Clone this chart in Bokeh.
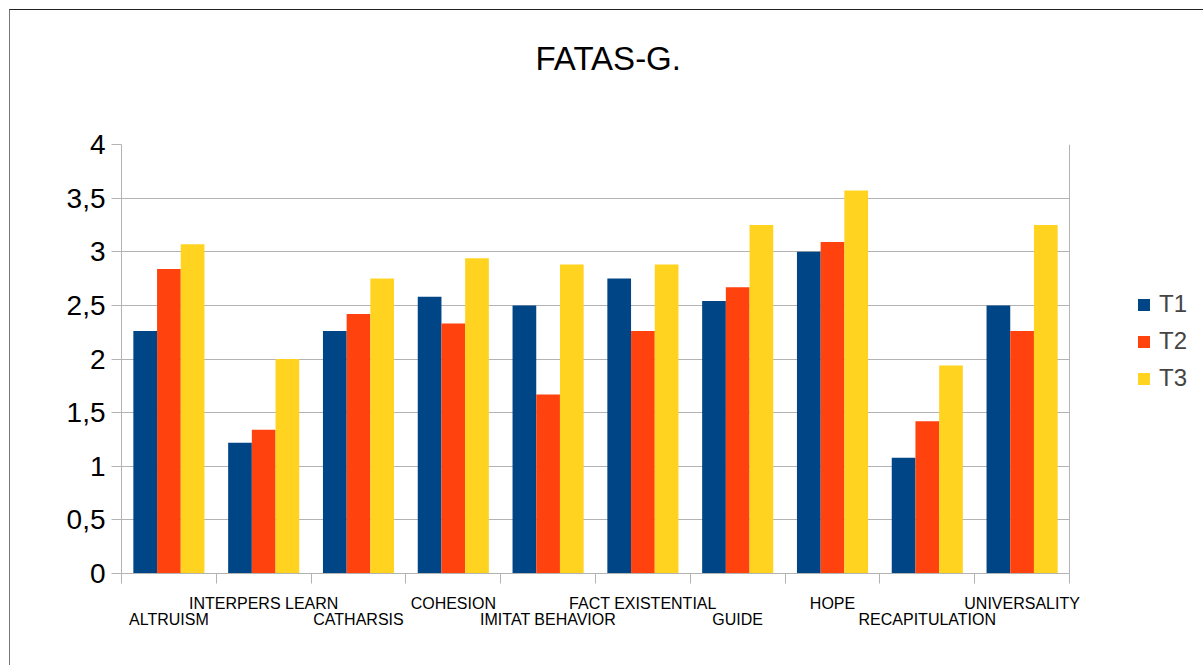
from bokeh.plotting import figure
from bokeh.models import (ColumnDataSource, Range1d, FixedTicker, LinearAxis,
                          Legend, LegendItem, Title)
from bokeh.transform import dodge
from bokeh.embed import file_html
from bokeh.resources import INLINE

# ---- data ----
categories = ["ALTRUISM", "INTERPERS LEARN", "CATHARSIS", "COHESION", "IMITAT BEHAVIOR",
              "FACT EXISTENTIAL", "GUIDE", "HOPE", "RECAPITULATION", "UNIVERSALITY"]
t1 = [2.26, 1.22, 2.26, 2.58, 2.50, 2.75, 2.54, 3.00, 1.08, 2.50]
t2 = [2.84, 1.34, 2.42, 2.33, 1.67, 2.26, 2.67, 3.09, 1.42, 2.26]
t3 = [3.07, 2.00, 2.75, 2.94, 2.88, 2.88, 3.25, 3.57, 1.94, 3.25]
series_names = ["T1", "T2", "T3"]
colors = ["#004586", "#ff420e", "#ffd320"]
y_ticks = [0, 0.5, 1, 1.5, 2, 2.5, 3, 3.5, 4]
y_tick_labels = ["0", "0,5", "1", "1,5", "2", "2,5", "3", "3,5", "4"]
title_text = "FATAS-G."

FONT = "Liberation Sans"
GRID = "#b3b3b3"
OFF = 10  # page offset of the chart box (margin + border)

n = len(categories)
centers = [i + 0.5 for i in range(n)]
boundaries = list(range(n + 1))
source = ColumnDataSource(dict(x=centers, t1=t1, t2=t2, t3=t3))

# plot wall spans 948 px; the frame is extended to the right edge to host the legend
WALL_PX = 948
EXTRA_PX = 1204 - 121 - WALL_PX
x_end = n * (WALL_PX + EXTRA_PX) / WALL_PX

p = figure(width=1204 - OFF, height=666 - OFF, x_range=Range1d(0, x_end), y_range=Range1d(0, 4),
           output_backend="svg", toolbar_location=None, x_axis_location=None,
           title_location=None,
           min_border_left=121 - OFF, min_border_right=0, min_border_top=144 - OFF,
           min_border_bottom=93)
p.margin = (9, 0, 0, 9)
p.styles = {"border-top": "1px solid #222222", "border-left": "1px solid #777777"}
p.background_fill_color = "white"
p.border_fill_color = "white"
p.outline_line_color = None

# grid lines limited to the wall (0..n)
p.xgrid.ticker = FixedTicker(ticks=[n])
p.xgrid.grid_line_color = GRID
p.ygrid.ticker = FixedTicker(ticks=y_ticks)
p.ygrid.grid_line_color = GRID
try:
    p.ygrid.cross_bounds = (0, n)
except AttributeError:
    p.ygrid.visible = False
    p.segment(x0=[0] * len(y_ticks), x1=[n] * len(y_ticks), y0=y_ticks, y1=y_ticks,
              line_color=GRID, line_width=1)

renderers = []
for key, off, col in zip(["t1", "t2", "t3"], [-0.25, 0.0, 0.25], colors):
    r = p.vbar(x=dodge("x", off), top=key, width=0.25, source=source,
               fill_color=col, line_color=None)
    renderers.append(r)

# title (with an empty spacer title between it and the frame)
spacer_top = Title(text=" ", text_font_size="1px", standoff=65)
main_title = Title(text=title_text, align="left", offset=414, standoff=0,
                   text_font=FONT, text_font_size="33px", text_font_style="normal",
                   text_color="black")
p.add_layout(spacer_top, "above")
p.add_layout(main_title, "above")

# y axis
yax = p.yaxis[0]
yax.ticker = FixedTicker(ticks=y_ticks)
yax.major_label_overrides = {t: l for t, l in zip(y_ticks, y_tick_labels)}
yax.major_tick_out = 10
yax.major_tick_in = 0
yax.minor_tick_line_color = None
yax.major_tick_line_color = GRID
yax.axis_line_color = GRID
yax.major_label_text_font = FONT
yax.major_label_text_font_size = "28px"
yax.major_label_text_color = "black"
yax.major_label_standoff = 6

# x axes (staggered labels)
upper_idx = [i for i in range(n) if i % 2 == 1]
lower_idx = [i for i in range(n) if i % 2 == 0]

axis_a = LinearAxis(
    ticker=FixedTicker(ticks=[centers[i] for i in upper_idx], minor_ticks=boundaries),
    major_label_overrides={centers[i]: categories[i] for i in upper_idx},
    bounds=(0, n),
    major_tick_out=0, major_tick_in=0, major_tick_line_color=None,
    minor_tick_out=10, minor_tick_in=0, minor_tick_line_color=GRID,
    axis_line_color=GRID, major_label_standoff=11,
    major_label_text_font=FONT, major_label_text_font_size="16px",
    major_label_text_color="black")
axis_b = LinearAxis(
    ticker=FixedTicker(ticks=[centers[i] for i in lower_idx]),
    major_label_overrides={centers[i]: categories[i] for i in lower_idx},
    major_tick_out=0, major_tick_in=0, major_tick_line_color=None,
    minor_tick_line_color=None, axis_line_color=None, major_label_standoff=-4,
    major_label_text_font=FONT, major_label_text_font_size="16px",
    major_label_text_color="black")
p.add_layout(axis_a, "below")
p.add_layout(axis_b, "below")

# legend inside the (extended) frame, right of the wall
legend = Legend(items=[LegendItem(label=s, renderers=[r]) for s, r in zip(series_names, renderers)],
                location=(1015, 181), glyph_width=15, glyph_height=15,
                label_text_font=FONT, label_text_font_size="24px", label_standoff=8,
                spacing=9, padding=0, margin=0, border_line_color=None,
                background_fill_alpha=0)
p.add_layout(legend)

open("out.html", "w").write(file_html(p, INLINE))
